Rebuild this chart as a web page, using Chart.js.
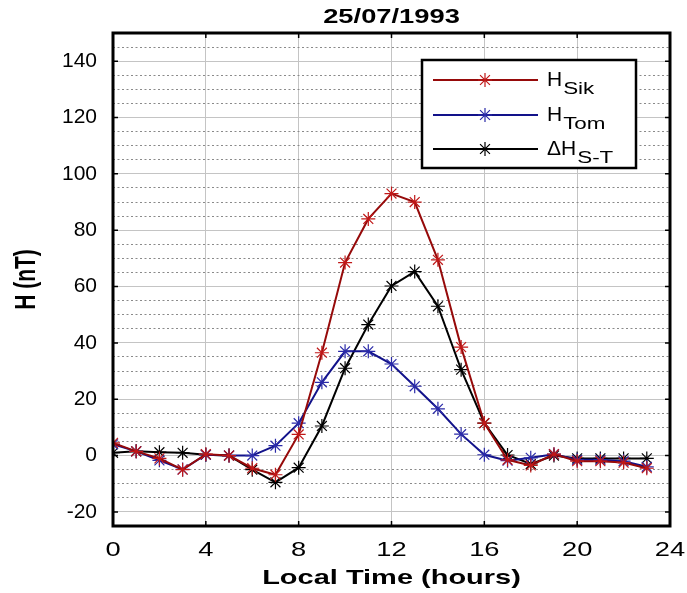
<!DOCTYPE html>
<html>
<head>
<meta charset="utf-8">
<script src="https://cdn.jsdelivr.net/npm/chart.js@4.4.1/dist/chart.umd.min.js"></script>
<style>
  html, body { margin: 0; padding: 0; background: #fff; }
  canvas { display: block; }
</style>
</head>
<body>
<canvas id="myChart" width="687" height="593"></canvas>
<script>
// values (local time, nT)
const hours = [0, 1, 2, 3, 4, 5, 6, 7, 8, 9, 10, 11, 12, 13, 14, 15, 16, 17, 18, 19, 20, 21, 22, 23];
const hSik = [4.5, 1.5, -1, -5, 0.5, 0, -4.5, -6.8, 7.5, 36.5, 68.5, 84, 93, 90, 69.5, 38.5, 11.5, -1.5, -3.5, 0.5, -2, -2, -2.5, -4.5];
const hTom = [4, 1.5, -1.7, -4.9, 0.3, 0, 0, 3.5, 11.5, 26, 37, 37, 32.5, 24.6, 16.6, 7.6, 0.3, -1.8, -0.8, 0.5, -1.5, -1.5, -2, -4];
const dHST = [1, 1.5, 1.2, 1, 0.3, 0, -5, -9.5, -4.3, 10.5, 31, 46.5, 60.2, 65.3, 53, 30.5, 11.5, 0.2, -3, 0, -1, -1, -1, -1];

const xTicks = [0, 4, 8, 12, 16, 20, 24];
const yTicks = [-20, 0, 20, 40, 60, 80, 100, 120, 140];
const legendMain = ['H', 'H', '\u0394H'];
const legendSub = ['Sik', 'Tom', 'S-T'];
const titleText = '25/07/1993';
const xTitle = 'Local Time (hours)';
const yTitle = 'H (nT)';

const FONT = "'Liberation Sans', Arial, sans-serif";
const MARK = 7;

// dotted minor grid every 5 nT, skipping the major lines
const yMinor = [];
for (let v = -20; v < 150; v += 5) {
    if (v % 20 !== 0) yMinor.push(v);
}

function pts(values) {
    return hours.map((h, i) => ({x: h, y: values[i]}));
}

function series(label, values, lineColor, markColor) {
    return {
        label: label,
        data: pts(values),
        borderColor: lineColor,
        backgroundColor: lineColor,
        borderWidth: 2,
        pointStyle: 'star',
        pointRadius: MARK,
        pointBorderColor: markColor,
        pointBorderWidth: 1.2,
        tension: 0
    };
}

// the picture's text is a bit wide, so draw it stretched sideways
function wideText(ctx, text, x, y, sx, font, align) {
    ctx.save();
    ctx.translate(x, y);
    ctx.scale(sx, 1);
    ctx.font = font;
    ctx.textAlign = align;
    ctx.fillText(text, 0, 0);
    ctx.restore();
}

const frame = {
    id: 'frame',
    afterDraw(chart) {
        const ctx = chart.ctx;
        const a = chart.chartArea;
        const xs = chart.scales.x, ys = chart.scales.y;
        const cx = (a.left + a.right) / 2;
        ctx.save();

        // texts
        ctx.fillStyle = '#000';
        ctx.textBaseline = 'middle';
        wideText(ctx, titleText, cx, 17, 1.3, 'bold 21px ' + FONT, 'center');
        xTicks.forEach(v => {
            wideText(ctx, String(v), xs.getPixelForValue(v), 550, 1.3, '21px ' + FONT, 'center');
        });
        wideText(ctx, xTitle, cx, 578, 1.38, 'bold 21px ' + FONT, 'center');
        ctx.save();
        ctx.translate(27, (a.top + a.bottom) / 2);
        ctx.rotate(-Math.PI / 2);
        ctx.scale(1, 1.4);
        ctx.font = 'bold 21px ' + FONT;
        ctx.textAlign = 'center';
        ctx.fillText(yTitle, 0, 0);
        ctx.restore();

        // inward ticks and frame
        ctx.strokeStyle = '#000';
        ctx.lineWidth = 1.5;
        ctx.beginPath();
        xTicks.forEach(v => {
            const px = xs.getPixelForValue(v);
            ctx.moveTo(px, a.bottom); ctx.lineTo(px, a.bottom - 5);
            ctx.moveTo(px, a.top); ctx.lineTo(px, a.top + 5);
        });
        yTicks.forEach(v => {
            const py = ys.getPixelForValue(v);
            ctx.moveTo(a.left, py); ctx.lineTo(a.left + 5, py);
            ctx.moveTo(a.right, py); ctx.lineTo(a.right - 5, py);
        });
        ctx.stroke();
        ctx.lineWidth = 3;
        ctx.strokeRect(a.left, a.top, a.right - a.left, a.bottom - a.top);

        // legend box
        const bx = 422, by = 60, bw = 214, bh = 108;
        ctx.fillStyle = '#fff';
        ctx.fillRect(bx, by, bw, bh);
        ctx.lineWidth = 2.5;
        ctx.strokeRect(bx, by, bw, bh);
        const rows = [80, 115, 149];
        chart.data.datasets.forEach((ds, i) => {
            const y = rows[i];
            ctx.strokeStyle = ds.borderColor;
            ctx.lineWidth = 2;
            ctx.beginPath();
            ctx.moveTo(433, y); ctx.lineTo(538, y);
            ctx.stroke();
            ctx.strokeStyle = ds.pointBorderColor;
            ctx.lineWidth = 1.2;
            Chart.helpers.drawPoint(ctx, {pointStyle: 'star', radius: MARK, borderWidth: 1.2, rotation: 0}, 485, y);
            ctx.fillStyle = '#000';
            ctx.textBaseline = 'alphabetic';
            ctx.font = '21px ' + FONT;
            const w = ctx.measureText(legendMain[i]).width;
            wideText(ctx, legendMain[i], 547, y + 6, 1, '21px ' + FONT, 'left');
            wideText(ctx, legendSub[i], 547 + w + 1, y + 14, 1.4, '16px ' + FONT, 'left');
        });
        ctx.restore();
    }
};

new Chart(document.getElementById('myChart').getContext('2d'), {
    type: 'line',
    data: {
        datasets: [
            series('H Sik', hSik, '#960a0a', '#c01818'),
            series('H Tom', hTom, '#12128a', '#2a2aa8'),
            series('\u0394H S-T', dHST, '#000000', '#000000')
        ]
    },
    options: {
        responsive: false,
        animation: false,
        layout: {padding: {right: 17, left: 0, bottom: 0, top: 33}},
        plugins: {
            legend: {display: false},
            tooltip: {enabled: false},
            title: {display: false}
        },
        scales: {
            x: {
                type: 'linear',
                min: 0, max: 24,
                afterBuildTicks: s => { s.ticks = xTicks.map(v => ({value: v})); },
                afterFit: s => { s.height = 67; },
                ticks: {display: false},
                grid: {color: '#c4c4c4', lineWidth: 1, drawTicks: false},
                border: {display: false}
            },
            y: {
                type: 'linear',
                min: -25, max: 150,
                afterBuildTicks: s => { s.ticks = yTicks.map(v => ({value: v})); },
                afterFit: s => { s.width = 113; },
                ticks: {color: '#000', font: {family: FONT, size: 21}, padding: 16},
                grid: {color: '#c4c4c4', lineWidth: 1, drawTicks: false},
                border: {display: false}
            },
            yMinor: {
                type: 'linear',
                position: 'left',
                min: -25, max: 150,
                afterBuildTicks: s => { s.ticks = yMinor.map(v => ({value: v})); },
                afterFit: s => { s.width = 0; },
                ticks: {display: false},
                grid: {color: '#8a8a8a', lineWidth: 1, drawTicks: false},
                border: {display: false, dash: [2, 2.5]}
            }
        }
    },
    plugins: [frame]
});
</script>
</body>
</html>
